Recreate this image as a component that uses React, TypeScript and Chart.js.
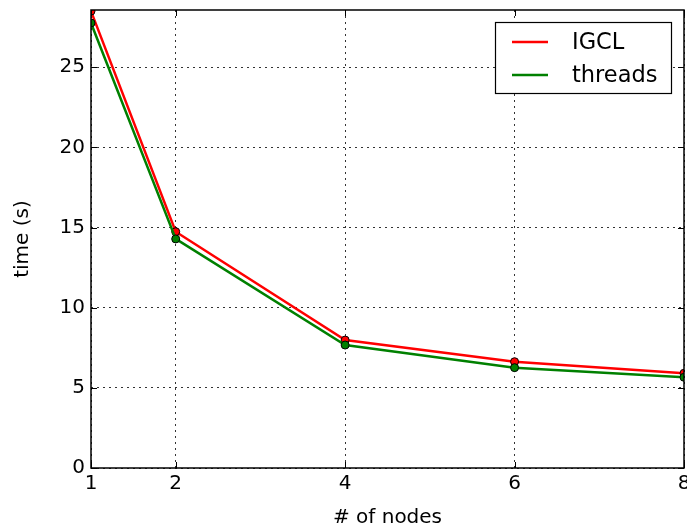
import React, { useEffect, useRef } from 'react';
import { Chart, registerables } from 'chart.js';

Chart.register(...registerables);

const nodes = [1, 2, 4, 6, 8];
const igcl = [28.5, 14.74, 7.98, 6.63, 5.91];
const threads = [27.76, 14.29, 7.67, 6.26, 5.66];
const xTicks = [1, 2, 4, 6, 8];
const yTicks = [0, 5, 10, 15, 20, 25];
const seriesNames = ['IGCL', 'threads'];
const seriesColors = ['#ff0000', '#008000'];

const FONT = '"DejaVu Sans", sans-serif';

const framePlugin = {
  id: 'frame',
  afterDraw(chart: any) {
    const { ctx, chartArea: a, scales } = chart;
    ctx.save();
    ctx.strokeStyle = '#000';
    ctx.lineWidth = 1;
    const tl = 6;
    ctx.beginPath();
    xTicks.forEach((v) => {
      const x = Math.round(scales.x.getPixelForValue(v)) + 0.5;
      ctx.moveTo(x, a.bottom);
      ctx.lineTo(x, a.bottom - tl);
      ctx.moveTo(x, a.top);
      ctx.lineTo(x, a.top + tl);
    });
    yTicks.forEach((v) => {
      const y = Math.round(scales.y.getPixelForValue(v)) + 0.5;
      ctx.moveTo(a.left, y);
      ctx.lineTo(a.left + tl, y);
      ctx.moveTo(a.right, y);
      ctx.lineTo(a.right - tl, y);
    });
    ctx.stroke();
    ctx.lineWidth = 1.5;
    ctx.strokeRect(a.left, a.top, a.right - a.left, a.bottom - a.top);

    // legend
    const bx = a.right - 189;
    const by = a.top + 12;
    const bw = 176;
    const bh = 71;
    ctx.fillStyle = '#fff';
    ctx.fillRect(bx, by, bw, bh);
    ctx.lineWidth = 1.2;
    ctx.strokeRect(bx + 0.5, by + 0.5, bw, bh);
    ctx.font = `22.5px ${FONT}`;
    ctx.textBaseline = 'middle';
    ctx.textAlign = 'left';
    seriesNames.forEach((name, i) => {
      const y = by + 20 + i * 33;
      ctx.strokeStyle = seriesColors[i];
      ctx.lineWidth = 2.5;
      ctx.beginPath();
      ctx.moveTo(bx + 17, y);
      ctx.lineTo(bx + 53, y);
      ctx.stroke();
      ctx.fillStyle = '#000';
      ctx.fillText(name, bx + 77, y + 1);
    });
    ctx.restore();
  },
};

export default function App() {
  const ref = useRef<HTMLCanvasElement | null>(null);
  useEffect(() => {
    document.body.style.margin = '0';
    const canvas = ref.current!;
    const chart = new Chart(canvas, {
      type: 'line',
      data: {
        datasets: [
          {
            label: seriesNames[0],
            data: nodes.map((x, i) => ({ x, y: igcl[i] })),
            borderColor: seriesColors[0],
            backgroundColor: seriesColors[0],
            pointBackgroundColor: seriesColors[0],
            pointBorderColor: '#000',
            pointBorderWidth: 1,
            pointRadius: 4,
            borderWidth: 2.5,
            tension: 0,
            order: 1,
            clip: 0,
          },
          {
            label: seriesNames[1],
            data: nodes.map((x, i) => ({ x, y: threads[i] })),
            borderColor: seriesColors[1],
            backgroundColor: seriesColors[1],
            pointBackgroundColor: seriesColors[1],
            pointBorderColor: '#000',
            pointBorderWidth: 1,
            pointRadius: 4,
            borderWidth: 2.5,
            tension: 0,
            order: 0,
            clip: 0,
          },
        ],
      },
      options: {
        responsive: false,
        animation: false,
        events: [],
        layout: { autoPadding: false, padding: { top: 10, right: 3, left: 0, bottom: 0 } },
        plugins: { legend: { display: false }, tooltip: { enabled: false } },
        scales: {
          x: {
            type: 'linear',
            min: 1,
            max: 8,
            afterBuildTicks: (s: any) => {
              s.ticks = xTicks.map((v) => ({ value: v }));
            },
            afterFit: (s: any) => {
              s.height = 61;
              s.paddingLeft = 0;
              s.paddingRight = 0;
            },
            ticks: {
              color: '#000',
              font: { family: FONT, size: 20 },
              padding: 4,
              maxRotation: 0,
              autoSkip: false,
            },
            grid: { color: 'rgba(0,0,0,0.8)', lineWidth: 1, drawTicks: false },
            border: { display: false, dash: [2, 4] },
            title: {
              display: true,
              text: '# of nodes',
              color: '#000',
              font: { family: FONT, size: 20, lineHeight: 1.1 },
              padding: { top: 0, bottom: 0 },
            },
          },
          y: {
            type: 'linear',
            min: 0,
            max: 28.57,
            afterBuildTicks: (s: any) => {
              s.ticks = yTicks.map((v) => ({ value: v }));
            },
            afterFit: (s: any) => {
              s.width = 91;
              s.paddingTop = 0;
              s.paddingBottom = 0;
            },
            ticks: {
              color: '#000',
              font: { family: FONT, size: 20 },
              padding: 6,
              autoSkip: false,
            },
            grid: { color: 'rgba(0,0,0,0.8)', lineWidth: 1, drawTicks: false },
            border: { display: false, dash: [2, 4] },
            title: {
              display: true,
              text: 'time (s)',
              color: '#000',
              font: { family: FONT, size: 20, lineHeight: 1.1 },
              padding: { top: 11.5, bottom: 0 },
            },
          },
        },
      },
      plugins: [framePlugin],
    } as any);
    return () => chart.destroy();
  }, []);
  return <canvas ref={ref} width={687} height={529} style={{ display: 'block' }} />;
}
